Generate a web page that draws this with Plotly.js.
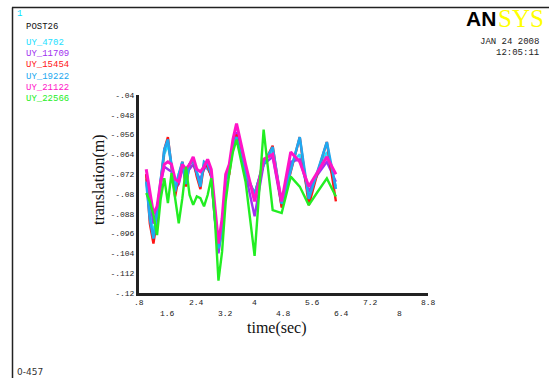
<!DOCTYPE html>
<html>
<head>
<meta charset="utf-8">
<script src="https://cdn.plot.ly/plotly-3.0.1.min.js"></script>
<style>html,body{margin:0;padding:0;background:#fff;}#chart{width:549px;height:378px;}</style>
</head>
<body>
<div id="chart"></div>
<script>
// ---- data ----
const time = [1.0,1.1,1.2,1.3,1.4,1.5,1.6,1.7,1.8,1.9,2.0,2.1,2.2,2.3,2.4,2.5,2.6,2.7,2.8,2.9,3.0,3.1,3.2,3.3,3.4,3.5,
              3.75,4.0,4.25,4.5,4.75,5.0,5.25,5.5,5.75,6.0,6.25];
const seriesNames = ["UY_4702","UY_11709","UY_15454","UY_19222","UY_21122","UY_22566"];
const uy4702  = [-0.074,-0.088,-0.096,-0.087,-0.074,-0.064,-0.060,-0.068,-0.077,-0.072,-0.068,-0.074,-0.068,-0.067,-0.071,-0.075,-0.069,-0.070,-0.072,-0.088,-0.101,-0.093,-0.074,-0.070,-0.061,-0.058,
                 -0.071,-0.080,-0.067,-0.063,-0.084,-0.068,-0.064,-0.081,-0.071,-0.063,-0.077];
const uy11709 = [-0.072,-0.083,-0.092,-0.086,-0.076,-0.069,-0.070,-0.071,-0.078,-0.076,-0.070,-0.071,-0.070,-0.068,-0.072,-0.074,-0.070,-0.068,-0.073,-0.088,-0.104,-0.094,-0.074,-0.069,-0.060,-0.055,
                 -0.072,-0.089,-0.068,-0.065,-0.085,-0.067,-0.066,-0.079,-0.072,-0.067,-0.075];
const uy15454 = [-0.072,-0.092,-0.100,-0.090,-0.076,-0.062,-0.057,-0.068,-0.081,-0.073,-0.067,-0.077,-0.068,-0.066,-0.073,-0.078,-0.068,-0.069,-0.073,-0.090,-0.100,-0.095,-0.074,-0.072,-0.060,-0.056,
                 -0.072,-0.080,-0.068,-0.0605,-0.0855,-0.071,-0.057,-0.0845,-0.071,-0.059,-0.083];
const uy19222 = [-0.075,-0.090,-0.098,-0.088,-0.075,-0.062,-0.058,-0.068,-0.079,-0.072,-0.067,-0.076,-0.068,-0.066,-0.072,-0.077,-0.067,-0.068,-0.072,-0.090,-0.102,-0.095,-0.075,-0.070,-0.060,-0.057,
                 -0.072,-0.080,-0.068,-0.061,-0.084,-0.070,-0.057,-0.082,-0.070,-0.059,-0.078];
const uy21122 = [-0.070,-0.080,-0.088,-0.085,-0.075,-0.068,-0.067,-0.068,-0.074,-0.075,-0.068,-0.070,-0.068,-0.065,-0.070,-0.071,-0.069,-0.066,-0.070,-0.085,-0.100,-0.090,-0.072,-0.068,-0.058,-0.0515,
                 -0.068,-0.083,-0.066,-0.064,-0.083,-0.063,-0.067,-0.077,-0.071,-0.065,-0.072];
const uy22566 = [-0.0796,-0.083,-0.0885,-0.0966,-0.082,-0.0736,-0.0837,-0.0716,-0.0817,-0.0918,-0.0817,-0.069,-0.0804,-0.0844,-0.081,-0.0817,-0.085,-0.0804,-0.0736,-0.090,-0.115,-0.1033,-0.083,-0.0716,-0.063,-0.058,
                 -0.075,-0.105,-0.054,-0.0865,-0.0877,-0.073,-0.077,-0.0845,-0.079,-0.0737,-0.081];
const yTickVals = [-0.04,-0.048,-0.056,-0.064,-0.072,-0.08,-0.088,-0.096,-0.104,-0.112,-0.12];
const yTickText = ["-.04","-.048","-.056","-.064","-.072","-.08","-.088","-.096","-.104","-.112","-.12"];
const xTickRow1 = [0.8,2.4,4,5.6,7.2,8.8];
const xTickRow1Text = [".8","2.4","4","5.6","7.2","8.8"];
const xTickRow2 = [1.6,3.2,4.8,6.4,8];
const xTickRow2Text = ["1.6","3.2","4.8","6.4","8"];

// ---- styling ----
const colors = ["#22E0FF","#A030F0","#FF1414","#20A8F0","#FF14C8","#22EE22"];
const widths = [2.4,2.4,2.4,2.6,3,2.4];
const allY = [uy4702,uy11709,uy15454,uy19222,uy21122,uy22566];

const W=549,H=378,L=139,R=121,T=95,B=85;
const pw=W-L-R, ph=H-T-B;
const px=(x)=>(x-L)/pw;
const py=(y)=>(H-B-y)/ph;

const traces = allY.map((ys,i)=>({
  x: time, y: ys, type:'scatter', mode:'lines', name: seriesNames[i],
  line:{color:colors[i], width:widths[i]}, hoverinfo:'skip'
}));

const mono = "Liberation Mono, DejaVu Sans Mono, monospace";
const ann = [];
ann.push({xref:'paper',yref:'paper',x:px(15),y:py(14),text:'1',showarrow:false,xanchor:'left',yanchor:'middle',font:{family:mono,size:9,color:'#00E0FF'}});
ann.push({xref:'paper',yref:'paper',x:px(24),y:py(27),text:'POST26',showarrow:false,xanchor:'left',yanchor:'middle',font:{family:mono,size:9,color:'#111'}});
seriesNames.forEach((n,i)=>{
  ann.push({xref:'paper',yref:'paper',x:px(24),y:py(43+i*11.2),text:n,showarrow:false,xanchor:'left',yanchor:'middle',font:{family:mono,size:9,color:colors[i]}});
});
ann.push({xref:'paper',yref:'paper',x:px(541),y:py(42),text:'JAN 24 2008',showarrow:false,xanchor:'right',yanchor:'middle',font:{family:mono,size:9,color:'#222'}});
ann.push({xref:'paper',yref:'paper',x:px(541),y:py(53),text:'12:05:11',showarrow:false,xanchor:'right',yanchor:'middle',font:{family:mono,size:9,color:'#222'}});
ann.push({xref:'paper',yref:'paper',x:px(498),y:py(18),text:'<b>AN</b>',showarrow:false,xanchor:'right',yanchor:'middle',font:{family:'Liberation Sans Narrow, Liberation Sans, Arial',size:21,color:'#000'}});
ann.push({xref:'paper',yref:'paper',x:px(496),y:py(18),text:'SYS',showarrow:false,xanchor:'left',yanchor:'middle',font:{family:'Liberation Serif, Times New Roman',size:25,color:'#FFFF00'}});
ann.push({xref:'paper',yref:'paper',x:px(15),y:py(372),text:'0-457',showarrow:false,xanchor:'left',yanchor:'middle',font:{family:'DejaVu Sans, sans-serif',size:9,color:'#333'}});
// x tick labels, two staggered rows
xTickRow1.forEach((v,i)=>ann.push({xref:'x',yref:'paper',x:v,y:py(302),text:xTickRow1Text[i],showarrow:false,xanchor:'center',yanchor:'middle',font:{family:mono,size:8,color:'#222'}}));
xTickRow2.forEach((v,i)=>ann.push({xref:'x',yref:'paper',x:v,y:py(313),text:xTickRow2Text[i],showarrow:false,xanchor:'center',yanchor:'middle',font:{family:mono,size:8,color:'#222'}}));
// axis titles
ann.push({xref:'paper',yref:'paper',x:px(277),y:py(328),text:'time(sec)',showarrow:false,xanchor:'center',yanchor:'middle',font:{family:'Liberation Serif, Times New Roman, serif',size:16,color:'#111'}});
ann.push({xref:'paper',yref:'paper',x:px(99),y:py(180),text:'translation(m)',showarrow:false,textangle:-90,xanchor:'center',yanchor:'middle',font:{family:'Liberation Serif, Times New Roman, serif',size:16,color:'#111'}});

const shapes = [
  {type:'line',xref:'paper',yref:'paper',x0:px(12),x1:px(549),y0:py(7.5),y1:py(7.5),line:{color:'#222',width:1.5}},
  {type:'line',xref:'paper',yref:'paper',x0:px(12.5),x1:px(12.5),y0:py(7.5),y1:py(378),line:{color:'#222',width:1.5}}
];

const layout = {
  width:W, height:H, margin:{l:L,r:R,t:T,b:B,pad:0},
  paper_bgcolor:'#fff', plot_bgcolor:'#fff', showlegend:false,
  xaxis:{range:[0.8,8.8], showgrid:false, zeroline:false, showline:true, linecolor:'#222', linewidth:3,
         ticks:'', showticklabels:false, fixedrange:true},
  yaxis:{range:[-0.12,-0.04], showgrid:false, zeroline:false, showline:true, linecolor:'#222', linewidth:3,
         ticks:'', tickvals:yTickVals, ticktext:yTickText, tickfont:{family:mono,size:8,color:'#222'}, fixedrange:true},
  annotations: ann, shapes: shapes
};
Plotly.newPlot('chart', traces, layout, {staticPlot:true, displayModeBar:false});
</script>
</body>
</html>
